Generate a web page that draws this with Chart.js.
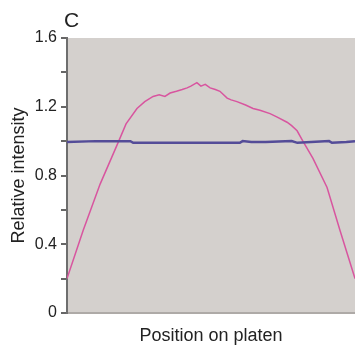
<!DOCTYPE html>
<html>
<head>
<meta charset="utf-8">
<script src="https://cdn.jsdelivr.net/npm/chart.js@4"></script>
<style>
  html, body { margin: 0; padding: 0; background: #fff; }
  #wrap { width: 355px; height: 347px; }
</style>
</head>
<body>
<div id="wrap"><canvas id="chart"></canvas></div>
<script>
const panelLabel = "C";
const xTitle = "Position on platen";
const yTitle = "Relative intensity";
const yLabels = [0, 0.4, 0.8, 1.2, 1.6];

// pink trace (position in % of platen, relative intensity)
const pinkPos = [0, 5.6, 11.5, 17.7, 20.5, 24.3, 27, 29.9, 32, 34, 35.8, 38, 40, 41.7, 43, 45.1, 46.5, 48, 49.7, 51.5, 53.1, 55.6, 57, 59, 62, 64.6, 67, 70.5, 73, 76.4, 78, 79.9, 81.9, 85.4, 90.3, 94.8, 100];
const pinkVal = [0.2, 0.48, 0.75, 0.99, 1.10, 1.19, 1.23, 1.26, 1.27, 1.26, 1.28, 1.29, 1.30, 1.31, 1.32, 1.34, 1.32, 1.33, 1.31, 1.30, 1.29, 1.25, 1.24, 1.23, 1.21, 1.19, 1.18, 1.16, 1.14, 1.11, 1.09, 1.06, 1.00, 0.90, 0.73, 0.48, 0.2];

// blue trace
const bluePos = [0, 10, 22, 23, 60, 61, 64, 69, 78, 80, 91, 92, 97, 100];
const blueVal = [0.995, 1.0, 1.0, 0.99, 0.99, 1.0, 0.995, 0.995, 1.0, 0.99, 1.0, 0.99, 0.995, 1.0];

const toPoints = (xs, ys) => xs.map((x, i) => ({ x: x, y: ys[i] }));

const plotBg = {
  id: "plotBg",
  beforeDraw(chart) {
    const { ctx, chartArea } = chart;
    ctx.save();
    ctx.fillStyle = "#d4d0cd";
    ctx.fillRect(chartArea.left, chartArea.top, chartArea.right - chartArea.left, chartArea.bottom - chartArea.top);
    ctx.restore();
  },
  afterDraw(chart) {
    const ctx = chart.ctx;
    ctx.save();
    ctx.fillStyle = "#222";
    ctx.font = "21px 'Liberation Sans', Arial, sans-serif";
    ctx.textBaseline = "alphabetic";
    ctx.fillText(panelLabel, 64, 27);
    ctx.restore();
  },
};

Chart.defaults.font.family = "'Liberation Sans', Arial, sans-serif";
Chart.defaults.color = "#222";

new Chart(document.getElementById("chart"), {
  type: "line",
  data: {
    datasets: [
      {
        data: toPoints(bluePos, blueVal),
        borderColor: "#544c98",
        borderWidth: 2.5,
        pointRadius: 0,
        tension: 0,
      },
      {
        data: toPoints(pinkPos, pinkVal),
        borderColor: "#d8559f",
        borderWidth: 1.5,
        pointRadius: 0,
        tension: 0,
      },
    ],
  },
  options: {
    responsive: true,
    maintainAspectRatio: false,
    animation: false,
    layout: { padding: { top: 38, left: 0, right: 0, bottom: 0 } },
    plugins: {
      legend: { display: false },
      tooltip: { enabled: false },
    },
    scales: {
      x: {
        type: "linear",
        min: 0,
        max: 100,
        grid: { display: false },
        border: { color: "#aeaaa7", width: 2 },
        ticks: { display: false },
        title: {
          display: true,
          text: xTitle,
          font: { size: 18 },
          padding: { top: 0, bottom: 0 },
        },
        afterFit(scale) {
          scale.height = 34;
        },
      },
      y: {
        min: 0,
        max: 1.6,
        grid: {
          drawOnChartArea: false,
          drawTicks: true,
          tickLength: 6,
          color: "#666",
          lineWidth: 2,
        },
        border: { color: "#6e6e6e", width: 2 },
        ticks: {
          stepSize: 0.2,
          padding: 4,
          font: { size: 16 },
          callback(v) {
            const r = Math.round(v * 10) / 10;
            return yLabels.includes(r) ? String(r) : "";
          },
        },
        title: {
          display: true,
          text: yTitle,
          font: { size: 18 },
          padding: { top: 8, bottom: 0 },
        },
        afterFit(scale) {
          scale.width = 67;
        },
      },
    },
  },
  plugins: [plotBg],
});
</script>
</body>
</html>
